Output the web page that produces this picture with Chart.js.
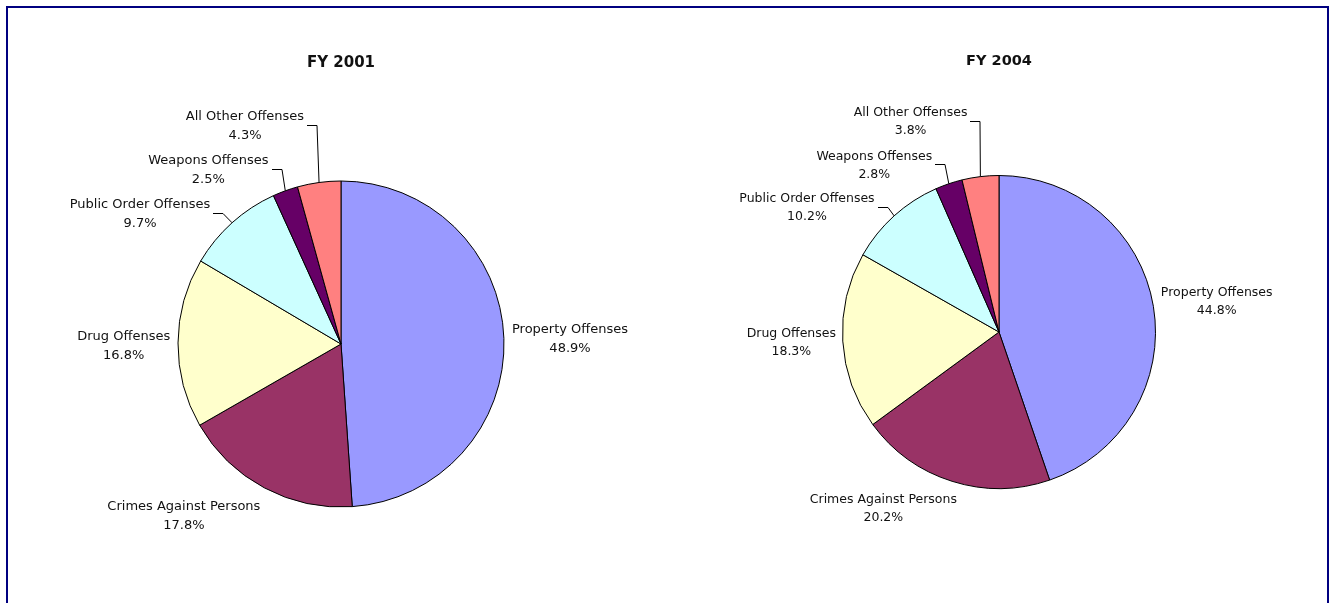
<!DOCTYPE html>
<html>
<head>
<meta charset="utf-8">
<title>Offense Distribution FY 2001 and FY 2004</title>
<script src="https://cdn.jsdelivr.net/npm/chart.js@4.4.0/dist/chart.umd.min.js"></script>
<style>
  html, body { margin: 0; padding: 0; background: #ffffff; overflow: hidden; }
  #frame {
    position: absolute; left: 6px; top: 6px; width: 1323px; height: 640px;
    border: 2px solid #000080; box-sizing: border-box;
  }
  canvas { position: absolute; left: 0; top: 0; }
</style>
</head>
<body>
<div id="frame"></div>
<canvas id="pie2001" width="1329" height="603"></canvas>
<canvas id="pie2004" width="1329" height="603"></canvas>
<script>
// Offense categories, in slice order (clockwise from 12 o'clock)
const categories = [
  'Property Offenses',
  'Crimes Against Persons',
  'Drug Offenses',
  'Public Order Offenses',
  'Weapons Offenses',
  'All Other Offenses'
];

// Percent share of offenses per fiscal year
const share2001 = [48.9, 17.8, 16.8, 9.7, 2.5, 4.3];
const share2004 = [44.8, 20.2, 18.3, 10.2, 2.8, 3.8];

const chartTitles = ['FY 2001', 'FY 2004'];

const sliceColors = ['#9999FF', '#993366', '#FFFFCC', '#CCFFFF', '#660066', '#FF8080'];

const PAGE_W = 1329, PAGE_H = 603;
const FONT = '"DejaVu Sans", "Liberation Sans", sans-serif';

// Draws the chart title, the two-line category/percent labels and leader lines
const sliceLabels = {
  id: 'sliceLabels',
  afterDatasetsDraw(chart, args, opts) {
    const ctx = chart.ctx;
    const meta = chart.getDatasetMeta(0);
    const values = chart.data.datasets[0].data;
    const first = meta.data[0].getProps(['x', 'y', 'outerRadius'], true);
    const cx = first.x, cy = first.y, R = first.outerRadius;

    ctx.save();
    ctx.fillStyle = '#111111';
    ctx.textAlign = 'center';
    ctx.textBaseline = 'middle';

    ctx.font = 'bold ' + opts.titleSize + 'px ' + FONT;
    ctx.fillText(opts.title, cx, cy - opts.titleRise * R);

    ctx.font = opts.fontSize + 'px ' + FONT;
    ctx.strokeStyle = '#000000';
    ctx.lineWidth = 1;

    meta.data.forEach((arc, i) => {
      const a = arc.getProps(['startAngle', 'endAngle'], true);
      const place = opts.places[i];
      const lx = cx + place.dx * R;
      const ly = cy + place.dy * R;
      const lines = [chart.data.labels[i], values[i].toFixed(1) + '%'];
      ctx.fillText(lines[0], lx, ly - opts.lineGap / 2);
      ctx.fillText(lines[1], lx, ly + opts.lineGap / 2);

      if (place.leader) {
        const w = Math.max(...lines.map(t => ctx.measureText(t).width));
        const mid = (a.startAngle + a.endAngle) / 2;
        const ex = cx + Math.cos(mid) * R;
        const ey = cy + Math.sin(mid) * R;
        const sx = Math.round(lx + w / 2 + 3);
        const sy = Math.round(ly - 1) + 0.5;
        ctx.beginPath();
        ctx.moveTo(sx, sy);
        ctx.lineTo(sx + 10, sy);
        ctx.lineTo(ex, ey);
        ctx.stroke();
      }
    });
    ctx.restore();
  }
};

function makePie(canvasId, values, title, geo, text) {
  return new Chart(document.getElementById(canvasId), {
    type: 'pie',
    data: {
      labels: categories,
      datasets: [{
        data: values,
        backgroundColor: sliceColors,
        borderColor: '#000000',
        borderWidth: 1,
        radius: geo.r
      }]
    },
    options: {
      responsive: false,
      animation: false,
      events: [],
      layout: {
        padding: {
          left: geo.cx - geo.r,
          right: PAGE_W - geo.cx - geo.r,
          top: geo.cy - geo.r,
          bottom: PAGE_H - geo.cy - geo.r
        }
      },
      plugins: {
        legend: { display: false },
        tooltip: { enabled: false },
        title: { display: false },
        sliceLabels: Object.assign({ title: title }, text)
      }
    },
    plugins: [sliceLabels]
  });
}

// Label centres are given relative to the pie centre, in units of the radius
makePie('pie2001', share2001, chartTitles[0],
  { cx: 341, cy: 344, r: 163 },
  {
    titleSize: 15, titleRise: 1.722, fontSize: 13, lineGap: 19,
    places: [
      { dx: 1.405, dy: -0.028 },
      { dx: -0.964, dy: 1.057 },
      { dx: -1.333, dy: 0.014 },
      { dx: -1.233, dy: -0.799, leader: true },
      { dx: -0.814, dy: -1.066, leader: true },
      { dx: -0.589, dy: -1.336, leader: true }
    ]
  });

makePie('pie2004', share2004, chartTitles[1],
  { cx: 999, cy: 332, r: 156.5 },
  {
    titleSize: 14.5, titleRise: 1.727, fontSize: 12.5, lineGap: 18,
    places: [
      { dx: 1.391, dy: -0.194 },
      { dx: -0.739, dy: 1.127 },
      { dx: -1.327, dy: 0.067 },
      { dx: -1.227, dy: -0.794, leader: true },
      { dx: -0.797, dy: -1.065, leader: true },
      { dx: -0.565, dy: -1.341, leader: true }
    ]
  });
</script>
</body>
</html>
